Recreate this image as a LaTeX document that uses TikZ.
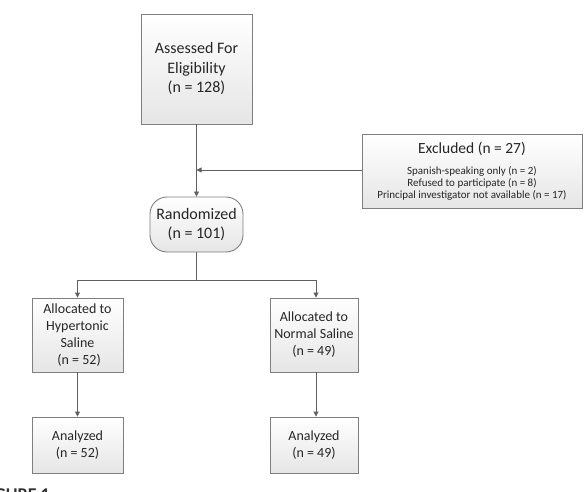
\documentclass[tikz,border=0pt]{standalone}
\usepackage{fontspec}
\setmainfont{Carlito}
\usetikzlibrary{arrows.meta,calc}
\definecolor{boxline}{HTML}{7F7F7F}
\definecolor{conn}{HTML}{606060}
\definecolor{txt}{HTML}{262626}
\tikzset{
  x=1pt,y=-1pt,
  box/.style={draw=boxline,line width=0.9pt,top color=white,bottom color=black!10,shading angle=0,
    align=center,text=txt,inner sep=2pt,font=\fontsize{14}{17}\selectfont},
  bigbox/.style={box,font=\fontsize{16}{19.5}\selectfont},
  roundbox/.style={box,rounded corners=17pt,font=\fontsize{16}{19}\selectfont},
  conn/.style={draw=conn,line width=0.9pt},
  arr/.style={conn,-{Triangle[width=5pt,length=5pt]}},
}
\begin{document}
\begin{tikzpicture}
\useasboundingbox (0,0) rectangle (584,492);
\fill[white] (0,0) rectangle (584,492);
\node[bigbox,minimum width=111pt,minimum height=110pt] (assess) at (196.5,69) {Assessed For\\Eligibility\\(n = 128)};
\node[roundbox,minimum width=93pt,minimum height=55pt] (rand) at (196.5,224.5) {Randomized\\(n = 101)};
\node[box,minimum width=220pt,minimum height=74pt,font=\fontsize{11}{12}\selectfont,yshift=-2pt] (excl) at (472,169.5)
  {{\fontsize{15.5}{12}\selectfont Excluded (n = 27)}\\[9pt]Spanish-speaking only (n = 2)\\Refused to participate (n = 8)\\Principal investigator not available (n = 17)};
\node[box,minimum width=91pt,minimum height=74pt] (hyp) at (77.5,335) {Allocated to\\Hypertonic\\Saline\\\ (n = 52)};
\node[box,minimum width=88pt,minimum height=74pt] (norm) at (314,335) {Allocated to\\Normal Saline\\(n = 49)};
\node[box,minimum width=91pt,minimum height=56pt] (ana1) at (77.5,445) {Analyzed\\(n = 52)};
\node[box,minimum width=88pt,minimum height=56pt] (ana2) at (314,445) {Analyzed\\(n = 49)};
\coordinate (join) at (196.5,170);
\coordinate (split) at (196.5,280);
\coordinate (splitL) at (77.5,280);
\coordinate (splitR) at (316,280);
\draw[arr] (assess.south) -- (rand.north);
\draw[arr] (excl.west |- join) -- (join);
\draw[conn] (rand.south) -- (split);
\draw[conn] (splitL) -- (splitR);
\draw[arr] (splitL) -- (hyp.north);
\draw[arr] (splitR) -- (splitR |- norm.north);
\draw[arr] (hyp.south) -- (ana1.north);
\draw[arr] (splitR |- norm.south) -- (splitR |- ana2.north);
\node[anchor=base east,inner sep=0pt,text=black!80,font=\bfseries\fontsize{18}{18}\selectfont] (cap) at (50,500) {FIGURE 1};
\end{tikzpicture}
\end{document}
